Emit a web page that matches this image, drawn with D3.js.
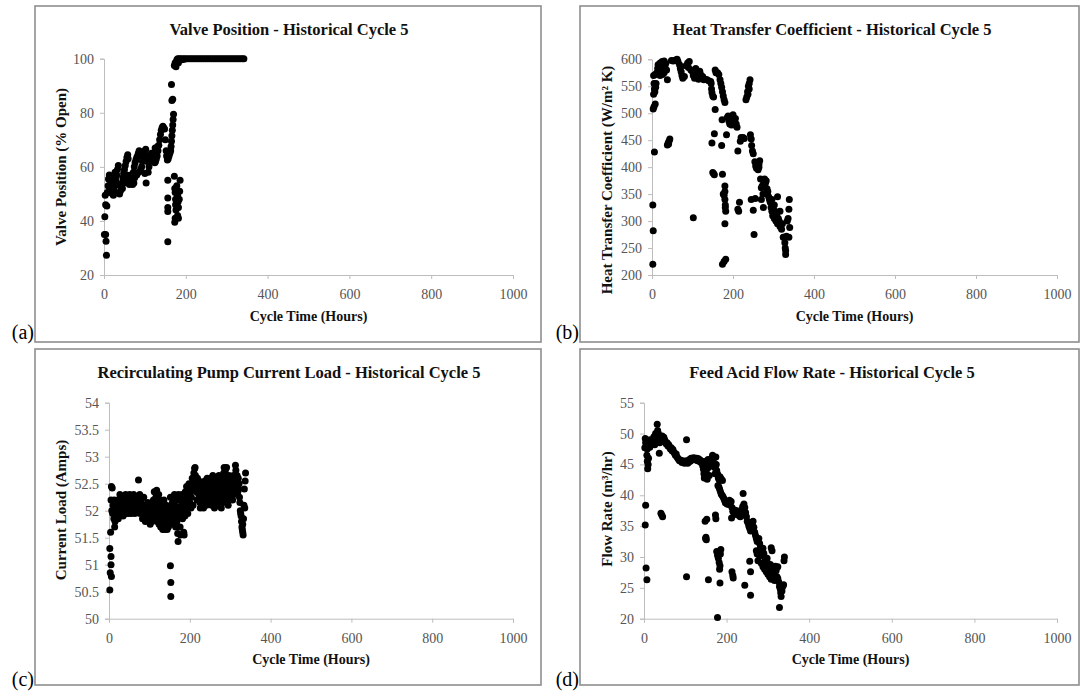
<!DOCTYPE html>
<html><head><meta charset="utf-8">
<script src="https://cdn.jsdelivr.net/npm/d3@7"></script>
<style>body{margin:0;background:#fff} svg{display:block}</style>
</head><body>
<svg id="chart" width="1081" height="692"></svg>
<script>
// ---------- DATA ----------
const xTicks = [0, 200, 400, 600, 800, 1000];
const valveTicks = [20, 40, 60, 80, 100];
const htcTicks = [200, 250, 300, 350, 400, 450, 500, 550, 600];
const currentTicks = [50, 50.5, 51, 51.5, 52, 52.5, 53, 53.5, 54];
const flowTicks = [20, 25, 30, 35, 40, 45, 50, 55];

const titles = ["Valve Position - Historical Cycle 5", "Heat Transfer Coefficient - Historical Cycle 5",
  "Recirculating Pump Current Load - Historical Cycle 5", "Feed Acid Flow Rate - Historical Cycle 5"];
const yLabels = ["Valve Position (% Open)", "Heat Transfer  Coefficient (W/m\u00B2 K)",
  "Current  Load (Amps)", "Flow Rate (m\u00B3/hr)"];
const xLabel = "Cycle Time (Hours)";
const tags = ["(a)", "(b)", "(c)", "(d)"];

const valveData = [[1,35],[4,35],[5,32.5],[6,27.3],[2,41.5],[4,46],[7,45.5],[3,49.5],[8,50.5],[10,53],[11,55.5],[13,57],[15,56],[17,54.5],[19,52],[21,50],[23,49.5],[25,51],[27,53],[29,55],[31,57],[33,59],[35,60.5],[24,56],[27,58],[21,54],[17,50.5],[14,52],
[38,50],[40,51],[42,52.5],[44,54],[46,56],[48,57.5],[50,59],[52,60.5],[54,62],[56,63.5],[58,64.5],[59,63],[45,52],[50,54],[40,53.5],[55,57],
[60,55],[62,53.5],[64,55],[66,54],[68,56],[70,55.5],[72,58],[74,60],[76,61.5],[78,62.5],[80,63.5],[82,64],[84,65],[86,66],[88,64.5],[90,65],[75,56],[80,57],[85,58],[70,53.5],[90,59],[65,57],[73,54],
[92,60],[94,62],[96,63],[98,64],[100,66],[102,66.5],[104,64],[106,62],[108,58],[100,57.5],[103,54],[110,60],[112,62],[114,64],[116,65],[118,64],[120,63],[122,62.5],[124,61.5],[126,62],[128,63],[130,64],[132,66],[134,68],[136,70],[138,72],[140,73.5],[142,74.5],[144,75],[146,74.5],[148,74],[125,67],[128,66],[131,67.5],[150,70],[152,66],[153,64],[155,62.5],[157,63],[159,64],[161,65],[163,66],[164,67.5],[165,69.5],[166,71.5],[167,73.5],[168,75.5],[169,77.5],[170,79.5],[166,84.5],[168,85],[165,90.5],[172,97.5],[174,98.5],[176,97],[178,99.5],[180,100],[182,98.5],[184,100],
[156,55],[156,48.5],[156,45],[156,43.5],[156,32.3],[172,56.5],[173,52],[174,50.5],[175,48],[175,46],[176,44],[174,41],[173,39.5],[178,53],[180,49.5],[181,47],[182,45],[180,42],[182,41],[186,55],[185,51],[184,48],
[188,100],[190,99.6],[193,100],[196,99.8],[198,100],[203,100],[208,100],[213,100],[218,100],[223,100],[228,100],[233,100],[238,100],[243,100],[248,100],[253,100],[258,100],[263,100],[268,100],[273,100],[278,100],[283,100],[288,100],[293,100],[298,100],[303,100],[308,100],[313,100],[318,100],[323,100],[328,100],[333,100],[338,100],[342,100]];

const htcData = [[2,330],[3,282],[2,220],[6,428],[3,508],[5,512],[8,517],[4,535],[6,545],[8,552],[5,555],[9,548],[7,540],[10,555],[4,570],[8,572],
[12,575],[14,583],[15,590],[17,578],[18,587],[20,593],[22,580],[24,588],[25,596],[27,583],[28,590],[30,575],[32,585],[34,592],[36,580],[30,597],[20,570],[26,572],[38,562],
[38,441],[40,445],[42,448],[44,452],[41,443],
[48,598],[52,597],[56,598],[60,599],[64,596],[62,600],
[68,590],[70,583],[72,577],[74,570],[76,565],[80,568],[84,588],[88,593],[92,596],[90,585],[96,580],[100,577],[102,570],[105,565],[108,583],[110,575],[112,569],[115,563],[118,578],[120,572],[122,566],[125,568],[128,562],[132,563],[136,562],[140,560],[145,559],
[102,306],
[146,555],[147,545],[148,538],[150,532],[152,530],[156,580],[158,575],[162,575],[165,572],[168,562],[170,555],[172,548],[174,540],[176,532],[178,525],[180,520],[156,507],[148,445],[154,462],[150,390],[152,388],[154,386],[172,440],[173,488],[174,387],[176,350],[178,348],[180,365],[180,355],[180,340],[181,330],[181,325],[182,318],[180,295],[174,220],[178,225],[182,229],
[184,460],[186,492],[188,495],[190,485],[192,480],[194,490],[196,478],[198,494],[200,497],[202,484],[204,478],[206,490],[208,480],[210,474],[212,430],[212,322],[214,318],[216,335],[218,448],[220,455],[222,452],[225,455],[228,453],
[232,525],[234,530],[236,540],[238,550],[240,555],[242,562],[237,535],[240,545],[243,460],[245,452],[246,440],[248,430],[250,425],[245,340],[250,320],[255,342],[252,275],
[254,410],[256,402],[258,398],[260,408],[262,395],[264,405],[266,412],[264,400],[268,378],[270,362],[272,365],[274,350],[276,372],[278,378],[280,370],[282,375],[284,360],[286,355],[288,345],[270,340],[275,325],[285,350],[290,340],[292,335],
[294,325],[296,318],[298,310],[300,312],[302,305],[304,318],[306,300],[308,310],[310,295],[312,305],[314,300],[316,290],[318,292],[320,285],[322,295],[324,270],[326,270],[328,260],[329,250],[330,245],[330,238],[332,272],[334,300],[336,305],[338,322],[339,340],[340,288],[338,270],[310,345],[302,330],[296,340],[316,318]];

const currentData = [[2,50.53],[2,51.3],[3,50.85],[5,51.15],[5,51.0],[6,50.78],[4,51.6],[6,52.45],[8,52.42],[5,52.2],[7,52.0],[9,51.95],
[10,52.1],[12,51.85],[13,52.2],[14,51.7],[15,51.8],[16,52.0],[18,52.15],[19,51.9],[20,52.05],[22,52.2],[23,51.85],[24,52.1],[26,52.0],[27,52.3],[28,52.15],[30,51.95],[31,52.05],[32,52.25],[34,52.1],[35,51.9],[36,52.2],[38,52.0],[40,52.15],[41,52.3],[42,51.95],[44,52.05],[45,52.25],[46,52.1],[48,51.95],[50,52.2],[51,52.3],[52,52.05],[54,52.15],[55,51.95],[56,52.25],[58,52.1],[60,52.0],[61,52.3],[62,52.15],
[64,51.95],[65,52.1],[66,52.25],[68,52.05],[70,52.2],[72,52.0],[73,52.57],[74,52.15],[76,52.3],[77,51.95],[78,52.1],[80,52.2],[82,52.0],[83,51.85],[85,52.1],[86,52.25],[88,51.95],[89,52.05],[90,51.8],[92,52.0],[94,52.1],[95,51.9],[96,52.15],[98,51.95],[100,51.85],[101,52.05],[102,51.75],[104,51.95],[105,52.1],[106,51.8],[108,52.0],[110,52.2],[111,51.9],
[112,52.35],[113,52.1],[114,51.85],[116,52.25],[117,52.0],[118,52.38],[119,51.8],[120,52.15],[122,51.95],[123,52.3],[124,51.75],[125,52.05],[126,52.2],[127,51.9],[128,51.7],[130,52.0],[131,52.1],[132,51.85],[133,51.65],[134,52.05],[135,51.95],[136,52.2],[137,51.8],[138,51.65],[139,52.0],[140,51.9],[141,52.1],[142,51.75],[143,51.95],[144,51.65],[145,52.05],[146,51.85],[147,51.7],[148,51.95],[149,52.0],
[152,50.98],[153,50.67],[153,50.41],
[151,51.8],[152,52.25],[153,52.1],[155,51.9],[156,51.75],[157,52.15],[158,52.05],[159,51.85],[160,52.2],[161,51.95],[162,52.3],[163,52.1],[164,51.9],[165,51.7],[166,52.2],[167,52.0],[168,51.8],[170,51.58],[171,51.43],[172,52.3],[173,52.05],[174,51.9],[175,52.2],[176,51.7],[177,51.55],[178,52.25],[179,52.1],[180,51.95],[181,52.3],[182,51.85],[183,52.15],[184,52.0],[185,51.6],[186,51.55],[187,52.2],[188,51.9],[189,52.35],[190,52.1],[191,52.0],[192,52.45],[193,52.3],[194,52.2],[195,51.95],[196,52.4],[198,52.5],[199,52.3],[200,52.15],
[201,52.45],[202,52.35],[203,52.05],[204,52.25],[205,52.5],[206,52.6],[207,52.4],[208,52.1],[209,52.55],[210,52.7],[211,52.45],[212,52.78],[213,52.8],[214,52.65],[215,52.55],[216,52.35],[217,52.5],[218,52.2],[219,52.6],[220,52.45],[222,52.3],[223,52.55],[224,52.4],[225,52.15],[226,52.05],[227,52.3],[228,52.45],[229,52.25],[230,52.1],[231,52.5],[232,52.35],[233,52.2],[234,52.05],[235,52.4],[236,52.3],[237,52.55],[238,52.15],[239,52.25],[240,52.45],[241,52.1],[242,52.35],[243,52.6],[244,52.2],[245,52.5],[246,52.3],[247,52.4],[248,52.15],[249,52.55],[250,52.45],[251,52.25],[252,52.6],[253,52.35],[254,52.1],[255,52.5],[256,52.3],[257,52.65],[258,52.4],[259,52.2],
[260,52.55],[261,52.05],[262,52.45],[263,52.3],[264,52.6],[265,52.15],[266,52.5],[267,52.35],[268,52.2],[269,52.55],[270,52.4],[271,52.1],[272,52.65],[273,52.3],[274,52.45],[275,52.2],[276,52.55],[277,52.35],[278,52.05],[279,52.5],[280,52.25],[281,52.6],[282,52.4],[283,52.15],[284,52.7],[285,52.8],[286,52.5],[287,52.3],[288,52.75],[289,52.6],[290,52.45],[291,52.8],[292,52.55],[293,52.2],[294,52.4],[295,52.1],[296,52.5],[297,52.65],[298,52.3],[299,52.45],[300,52.55],[301,52.25],[302,52.4],[303,52.6],[304,52.35],[305,52.5],[306,52.2],[307,52.45],[308,52.65],[309,52.3],[310,52.55],[311,52.4],[312,52.6],[313,52.84],[314,52.75],[315,52.5],[316,52.45],[317,52.65],[318,52.55],[319,52.35],[320,52.6],[321,52.4],[322,52.5],[323,52.25],[324,52.15],[325,52.0],[326,51.95],[327,51.9],[328,51.8],[329,51.7],[330,51.65],[331,51.6],[331,51.75],[332,51.55],[333,51.85],[334,52.1],[335,52.4],[336,52.05],[338,52.7],[337,52.55]];

const flowData = [[2,47.7],[3,49.2],[4,48.5],[6,48.0],[8,47.5],[5,49.0],[7,46.5],[8,45.5],[9,44.3],[10,45],[11,46],[12,48.5],[14,47.8],[15,49],[16,48.2],[18,48.6],[20,48.3],[22,48.8],[24,49.5],[26,48.2],[28,50],[30,49.8],[32,51.5],[33,50.5],[35,50],[36,49],[37,46.8],[38,48.5],[40,49.5],[42,49.2],[44,49.6],[46,48.8],[48,49.4],[50,49],[52,48.6],[54,48.3],[56,48.5],[58,48],[60,48.2],[62,47.8],[64,47.5],[66,47.7],[68,47.2],[70,47.4],[72,47],[74,46.8],[76,46.5],[78,46.7],[80,46.2],[82,46],[84,45.8],[86,45.6],[88,45.7],[90,45.5],[92,45.3],[94,45.6],[96,45.4],[98,45.2],[100,45.5],[102,45.3],[103,49],[104,45.6],[106,45.2],[108,45.4],[110,45.8],[112,45.5],[114,46],[116,45.7],[118,45.9],[120,46.1],[122,45.8],[124,46],[126,45.7],[128,46],[130,45.6],[132,45.9],[134,45.5],[136,45.7],[138,45.3],[140,45.5],[142,44.8],[144,44.2],[145,43.5],[146,42.8],[147,43.2],[148,44.5],[149,45],[150,45.5],[151,44],[152,43],[153,42.6],[154,45],[155,45.8],[156,44.5],[158,43.2],[160,44.8],[162,45.5],[164,46],[166,46.5],[168,46],[170,45.2],[171,44.5],[172,43.5],[173,44.8],[174,46.2],[175,45],[176,44],[178,43.5],[180,42.8],[182,42.5],[184,43],[186,42.7],[188,42.5],[190,42.4],[179,41.6],[181,41.4],[183,41],[185,40.6],[187,40.2],[189,40],[191,39.8],[193,39.5],[195,39.2],[197,38.8],[199,39],[201,38.6],[203,38.8],[205,38.5],[207,39.2],[209,38.8],[211,39],[213,38],[215,37.4],[217,37.2],[219,37.6],[221,37],[223,37.3],[225,37.5],[227,36.8],[229,37],[231,37.4],[233,36.5],[235,36.8],[237,37.6],[239,38.2],[240,40.3],[242,38.6],[244,38],[246,37.2],[248,36.5],[250,35.8],[252,35.5],[254,35],[256,34.6],[258,34.2],[260,35.6],[262,35.2],[264,35.8],[266,34.8],[268,34],[270,33.5],[272,33],[274,32.5],[276,32.8],[278,33],[280,32.2],[282,31.6],[284,31.2],[286,30.8],[288,31.4],[290,30.6],[292,30],[294,29.6],[296,29.2],[298,29.8],[300,29],[302,28.6],[304,28.2],[306,28.8],[308,31.5],[310,31],[312,28],[314,27.6],[316,27.2],[318,28.5],[320,27.8],[322,26.8],[324,26.5],[326,26],[328,25.2],[330,24.8],[331,24.2],[332,23.6],[334,24.5],[336,25.2],[338,25.5],[339,29.4],[340,30],[328,21.8],[272,31],[274,30.5],[276,29.4],[280,30.2],[284,29],[288,28.4],[292,28],[296,27.6],[300,27.2],[304,26.8],[308,26.4],[312,26.7],[316,26.2],[320,28.2],[324,28.4],
[3,35.2],[4,38.4],[5,28.2],[7,26.3],[41,37.1],[43,36.8],[45,36.5],[103,26.8],[148,35.8],[152,36.1],[150,33.2],[151,32.8],[149,33],[156,26.3],[173,36.8],[174,36.2],[176,30.9],[178,30.3],[180,29.8],[182,29.1],[184,28.6],[183,28],[186,31.2],[185,30.5],[184,25.8],[178,20.2],[212,36.3],[213,27.6],[215,27],[216,26.6],[244,25.4],[256,29.3],[258,27.6],[258,23.8]];

// ---------- LAYOUT ----------
const serif = "'Liberation Serif','Times New Roman',serif";
const panels = [
  {box:[35,6,541,342], xr:[104,513], yr:[275,58.7], yd:[20,100], yt:valveTicks, data:valveData,
   titleX:289, titleY:35, ylX:61, ylY:167, xlY:321, tagX:34, tagY:339},
  {box:[580,6,1079,342], xr:[652,1057], yr:[275,59.3], yd:[200,600], yt:htcTicks, data:htcData,
   titleX:832, titleY:35, ylX:607, ylY:180, xlY:321, tagX:579, tagY:339},
  {box:[35,349,541,685], xr:[109,513], yr:[618.7,402.7], yd:[50,54], yt:currentTicks, data:currentData,
   titleX:289, titleY:378, ylX:61, ylY:510, xlY:664, tagX:34, tagY:686},
  {box:[580,349,1079,685], xr:[644,1057], yr:[618.7,402.7], yd:[20,55], yt:flowTicks, data:flowData,
   titleX:832, titleY:378, ylX:607, ylY:509, xlY:664, tagX:579, tagY:686}
];

const svg = d3.select("#chart");
svg.append("rect").attr("width",1081).attr("height",692).attr("fill","#fff");

panels.forEach((p, i) => {
  const g = svg.append("g");
  g.append("rect").attr("x",p.box[0]).attr("y",p.box[1])
    .attr("width",p.box[2]-p.box[0]).attr("height",p.box[3]-p.box[1])
    .attr("fill","none").attr("stroke","#8e8e8e").attr("stroke-width",1.6);

  const x = d3.scaleLinear().domain([0,1000]).range(p.xr);
  const y = d3.scaleLinear().domain(p.yd).range(p.yr);

  const xa = g.append("g").attr("transform",`translate(0,${p.yr[0]})`)
    .call(d3.axisBottom(x).tickValues(xTicks).tickSize(4).tickPadding(10).tickFormat(d=>d));
  const ya = g.append("g").attr("transform",`translate(${p.xr[0]},0)`)
    .call(d3.axisLeft(y).tickValues(p.yt).tickSize(4).tickPadding(6).tickFormat(d=>d));
  [xa, ya].forEach(a => {
    a.selectAll("path,line").attr("stroke","#bdbdbd").attr("stroke-width",1);
    a.selectAll("text").attr("fill","#555").style("font-family",serif).style("font-size","14px");
  });

  g.append("g").selectAll("circle").data(p.data).join("circle")
    .attr("cx", d => x(d[0])).attr("cy", d => y(d[1])).attr("r", 3.5).attr("fill","#000");

  g.append("text").attr("x",p.titleX).attr("y",p.titleY).attr("text-anchor","middle")
    .style("font-family",serif).style("font-weight","bold").style("font-size","16.5px").attr("fill","#111")
    .text(titles[i]);
  g.append("text").attr("x",(p.xr[0]+p.xr[1])/2).attr("y",p.xlY).attr("text-anchor","middle")
    .style("font-family",serif).style("font-weight","bold").style("font-size","14px").attr("fill","#111")
    .text(xLabel);
  g.append("text").attr("transform",`translate(${p.ylX},${p.ylY}) rotate(-90)`)
    .attr("text-anchor","middle").attr("dominant-baseline","central")
    .style("font-family",serif).style("font-weight","bold").style("font-size","15px").attr("fill","#111")
    .text(yLabels[i]);
  svg.append("text").attr("x",p.tagX).attr("y",p.tagY).attr("text-anchor","end")
    .style("font-family",serif).style("font-size","20px").attr("fill","#000").text(tags[i]);
});
</script>
</body></html>
